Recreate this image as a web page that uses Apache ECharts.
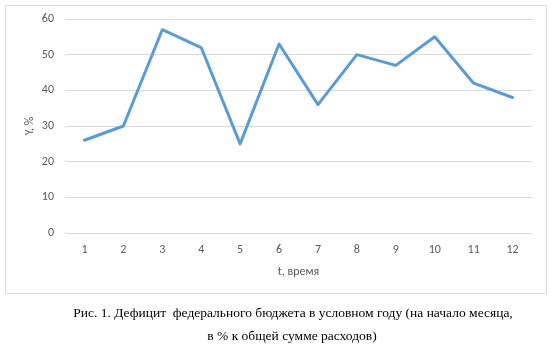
<!DOCTYPE html>
<html><head><meta charset="utf-8">
<script src="https://cdn.jsdelivr.net/npm/echarts@6/dist/echarts.min.js"></script>
<style>html,body{margin:0;padding:0;background:#fff}#c{width:551px;height:347px}</style>
</head><body><div id="c"></div>
<script>
const categories = ['1','2','3','4','5','6','7','8','9','10','11','12'];
const values = [26, 30, 57, 52, 25, 53, 36, 50, 47, 55, 42, 38];
const yTicks = {min: 0, max: 60, interval: 10};
const xName = 't, время';
const yName = 'Y, %';
const caption1 = 'Рис. 1. Дефицит  федерального бюджета в условном году (на начало месяца,';
const caption2 = 'в % к общей сумме расходов)';

const chart = echarts.init(document.getElementById('c'), null, {renderer: 'canvas'});
const fontFam = 'Carlito, "Open Sans", "Noto Sans", sans-serif';
const labelFont = {color: '#595959', fontSize: 12, fontFamily: fontFam};
chart.setOption({
  animation: false,
  grid: {left: 65, right: 19, top: 19, bottom: 114, containLabel: false},
  xAxis: {
    type: 'category', data: categories, boundaryGap: true,
    name: xName, nameLocation: 'middle', nameGap: 33,
    nameTextStyle: Object.assign({}, labelFont),
    axisLine: {show: false}, axisTick: {show: false},
    axisLabel: Object.assign({margin: 11}, labelFont)
  },
  yAxis: {
    type: 'value', min: yTicks.min, max: yTicks.max, interval: yTicks.interval,
    axisLine: {show: false}, axisTick: {show: false},
    axisLabel: Object.assign({margin: 11}, labelFont),
    splitLine: {lineStyle: {color: '#d9d9d9', width: 1}}
  },
  series: [{
    type: 'line', data: values, showSymbol: false, symbol: 'none',
    lineStyle: {color: '#5b9bd5', width: 3, cap: 'round', join: 'round'}
  }],
  graphic: [
    {type: 'rect', shape: {x: 5.5, y: 5.5, width: 541, height: 288}, style: {fill: 'none', stroke: '#d9d9d9', lineWidth: 1}, z: -1},
    {type: 'text', x: 30, y: 126, rotation: Math.PI / 2, style: {text: yName, fill: '#595959', font: '12px ' + fontFam, textAlign: 'center', textVerticalAlign: 'middle'}},
    {type: 'text', x: 293, y: 313, style: {text: caption1, fill: '#000', font: '13.5px "Liberation Serif", "Times New Roman", serif', textAlign: 'center', textVerticalAlign: 'middle'}},
    {type: 'text', x: 292, y: 336, style: {text: caption2, fill: '#000', font: '13.5px "Liberation Serif", "Times New Roman", serif', textAlign: 'center', textVerticalAlign: 'middle'}}
  ]
});
</script></body></html>
